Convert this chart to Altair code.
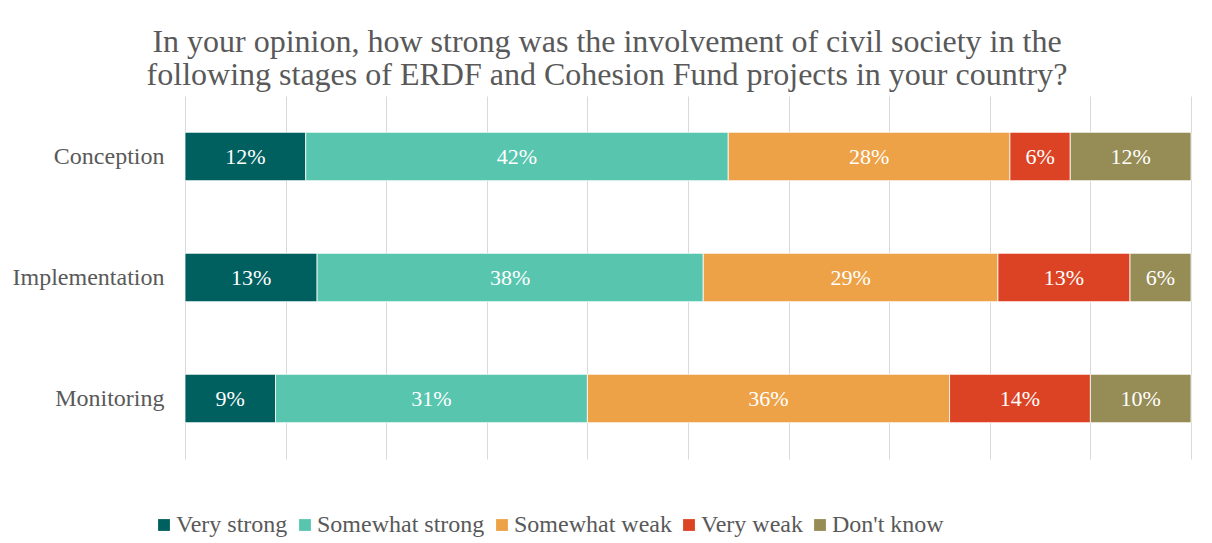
import altair as alt
import pandas as pd

stages = ["Conception", "Implementation", "Monitoring"]
responses = ["Very strong", "Somewhat strong", "Somewhat weak", "Very weak", "Don't know"]
very_strong = [12, 13, 9]
somewhat_strong = [42, 38, 31]
somewhat_weak = [28, 29, 36]
very_weak = [6, 13, 14]
dont_know = [12, 6, 10]
colors = ["#00605F", "#58C5AF", "#EDA247", "#DC4324", "#968C55"]
title_lines = [
    "In your opinion, how strong was the involvement of civil society in the",
    "following stages of ERDF and Cohesion Fund projects in your country?",
]

FONT = "Liberation Serif"
GRAY = "#595959"

rows = []
series = [very_strong, somewhat_strong, somewhat_weak, very_weak, dont_know]
for r_i, (resp, vals) in enumerate(zip(responses, series)):
    for s, v in zip(stages, vals):
        rows.append({"stage": s, "response": resp, "order": r_i, "value": v})
df = pd.DataFrame(rows)

base = alt.Chart(df).transform_stack(
    stack="value",
    groupby=["stage"],
    as_=["x0", "x1"],
    offset="normalize",
    sort=[alt.SortField("order", order="ascending")],
).transform_calculate(
    mid="(datum.x0 + datum.x1) / 2",
    label="datum.value + '%'",
)

y_enc = alt.Y(
    "stage:N",
    sort=stages,
    scale=alt.Scale(paddingInner=0.6, paddingOuter=0.3),
    axis=alt.Axis(
        title=None,
        ticks=False,
        domain=False,
        grid=False,
        labelFont=FONT,
        labelFontSize=24,
        labelColor=GRAY,
        labelPadding=21,
    ),
)

bars = base.mark_bar(stroke="white", strokeWidth=0.8).encode(
    y=y_enc,
    x=alt.X(
        "x0:Q",
        scale=alt.Scale(domain=[0, 1], nice=False),
        axis=alt.Axis(
            title=None,
            labels=False,
            ticks=False,
            domain=False,
            values=[i / 10 for i in range(11)],
            gridColor="#D9D9D9",
            gridWidth=1,
        ),
    ),
    x2="x1:Q",
    color=alt.Color(
        "response:N",
        scale=alt.Scale(domain=responses, range=colors),
        legend=alt.Legend(
            title=None,
            orient="none",
            direction="horizontal",
            legendX=-33,
            legendY=417,
            symbolType="square",
            symbolSize=140,
            symbolStrokeWidth=0,
            labelFont=FONT,
            labelFontSize=24,
            labelColor=GRAY,
            labelOffset=0,
            labelLimit=400,
            columnPadding=5,
        ),
    ),
)

text = base.mark_text(color="white", font=FONT, fontSize=22).encode(
    y=alt.Y("stage:N", sort=stages),
    x=alt.X("mid:Q"),
    text="label:N",
)

chart = (
    alt.layer(bars, text)
    .properties(
        width=1006,
        height=363,
        autosize=alt.AutoSizeParams(type="none"),
        padding={"left": 177, "top": 88, "right": 13, "bottom": 84},
        background="white",
        title=alt.TitleParams(
            text=title_lines,
            font=FONT,
            fontSize=32,
            fontWeight="normal",
            color=GRAY,
            anchor="middle",
            dx=-81,
            lineHeight=33,
            offset=4,
        ),
    )
    .configure_view(strokeWidth=0, stroke="transparent")
)

chart.save("out.html", embed_options={"renderer": "svg", "actions": False})
